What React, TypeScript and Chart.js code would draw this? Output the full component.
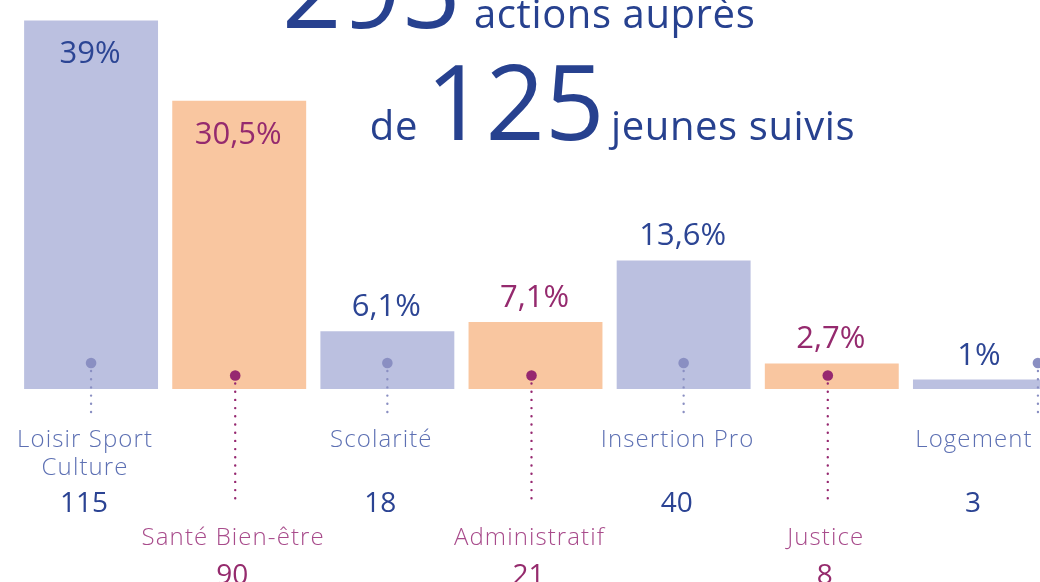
import { useEffect, useRef } from "react";
import { Chart, registerables } from "chart.js";

Chart.register(...registerables);

const categories = ["Loisir Sport Culture", "Santé Bien-être", "Scolarité", "Administratif", "Insertion Pro", "Justice", "Logement"];
const categoryLines = [["Loisir Sport", "Culture"], ["Santé Bien-être"], ["Scolarité"], ["Administratif"], ["Insertion Pro"], ["Justice"], ["Logement"]];
const percentages = [39, 30.5, 6.1, 7.1, 13.6, 2.7, 1];
const percentLabels = ["39%", "30,5%", "6,1%", "7,1%", "13,6%", "2,7%", "1%"];
const counts = [115, 90, 18, 21, 40, 8, 3];
const groups = [0, 1, 0, 1, 0, 1, 0];
const totalActions = "295";
const totalYouth = "125";
const titleLine1 = "actions auprès";
const titleLine2Pre = "de";
const titleLine2Post = "jeunes suivis";

const BAR_COLORS = ["#bbc0e0", "#f9c6a0"];
const PCT_COLORS = ["#2c4594", "#952a6e"];
const DOT_COLORS = ["#8a8fc2", "#962870"];
const LABEL_COLORS = ["#5d70b3", "#a84b8b"];
const COUNT_COLORS = ["#2b4393", "#952b6d"];
const TITLE_COLOR = "#27418f";
const FONT = "'Open Sans', 'DejaVu Sans', sans-serif";

const overlayPlugin = {
  id: "overlay",
  afterDatasetsDraw(chart: any) {
    const ctx = chart.ctx as CanvasRenderingContext2D;
    const meta = chart.getDatasetMeta(0);
    const base = chart.scales.y.getPixelForValue(0);
    meta.data.forEach((bar: any, i: number) => {
      const g = groups[i];
      const cx = bar.x;
      const top = bar.y;
      ctx.save();
      // percentage label
      ctx.fillStyle = PCT_COLORS[g];
      ctx.font = `400 31px ${FONT}`;
      ctx.textAlign = "center";
      ctx.textBaseline = "alphabetic";
      const inside = percentages[i] > 20;
      ctx.fillText(percentLabels[i], cx - 1, inside ? top + 43 : top - 15);

      // dot + dotted line
      const shortBar = g === 0 && base - top < 30;
      const dotX = shortBar ? cx + 58 : g === 0 ? cx : cx - 4;
      const dotY = g === 0 ? base - 26 : base - 13.5;
      const lineEnd = g === 0 ? base + 23 : base + 116;
      ctx.strokeStyle = DOT_COLORS[g];
      ctx.lineWidth = 2.4;
      ctx.lineCap = "round";
      ctx.setLineDash([0, 8.2]);
      ctx.beginPath();
      ctx.moveTo(dotX, dotY + 8);
      ctx.lineTo(dotX, lineEnd);
      ctx.stroke();
      ctx.setLineDash([]);
      ctx.fillStyle = DOT_COLORS[g];
      ctx.beginPath();
      ctx.arc(dotX, dotY, 5.3, 0, Math.PI * 2);
      ctx.fill();

      // category label
      const lx = cx - 6;
      ctx.fillStyle = LABEL_COLORS[g];
      ctx.font = `300 24px ${FONT}`;
      (ctx as any).letterSpacing = "1.1px";
      const lines = categoryLines[i];
      const labelBase = g === 0 ? base + 58 : base + 156;
      lines.forEach((ln, k) => ctx.fillText(ln, lx, labelBase + k * 28));
      (ctx as any).letterSpacing = "0px";

      // count
      ctx.fillStyle = COUNT_COLORS[g];
      ctx.font = `400 28px ${FONT}`;
      const countBase = g === 0 ? base + 123 : base + 195;
      ctx.fillText(String(counts[i]), cx - 7, countBase);
      ctx.restore();
    });

    // title
    ctx.save();
    ctx.fillStyle = TITLE_COLOR;
    ctx.textAlign = "left";
    ctx.textBaseline = "alphabetic";
    ctx.font = `400 104px ${FONT}`;
    ctx.fillText(totalActions, 282, 28);
    ctx.fillText(totalYouth, 426, 140);
    ctx.font = `400 40px ${FONT}`;
    (ctx as any).letterSpacing = "0.6px";
    ctx.fillText(titleLine1, 474, 28);
    ctx.fillText(titleLine2Post, 611, 140);
    ctx.textAlign = "right";
    ctx.fillText(titleLine2Pre, 418, 140);
    ctx.restore();
  },
};

export default function App() {
  const canvasRef = useRef<HTMLCanvasElement | null>(null);
  useEffect(() => {
    const canvas = canvasRef.current;
    if (!canvas) return;
    const chart = new Chart(canvas, {
      type: "bar",
      data: {
        labels: categories,
        datasets: [
          {
            data: percentages,
            backgroundColor: groups.map((g) => BAR_COLORS[g]),
            borderWidth: 0,
            barPercentage: 0.904,
            categoryPercentage: 1,
          },
        ],
      },
      options: {
        responsive: false,
        animation: false,
        devicePixelRatio: 1,
        layout: { padding: { left: 17, right: 6, top: 11, bottom: 193 } },
        plugins: { legend: { display: false }, tooltip: { enabled: false } },
        scales: {
          x: { display: false, offset: true },
          y: { display: false, min: 0, max: 40 },
        },
      },
      plugins: [overlayPlugin],
    });
    return () => chart.destroy();
  }, []);
  return (
    <div style={{ position: "absolute", left: 0, top: 0, width: 1040, height: 582, overflow: "hidden", background: "#fff" }}>
      <canvas ref={canvasRef} width={1060} height={582} style={{ width: 1060, height: 582, display: "block" }} />
    </div>
  );
}
